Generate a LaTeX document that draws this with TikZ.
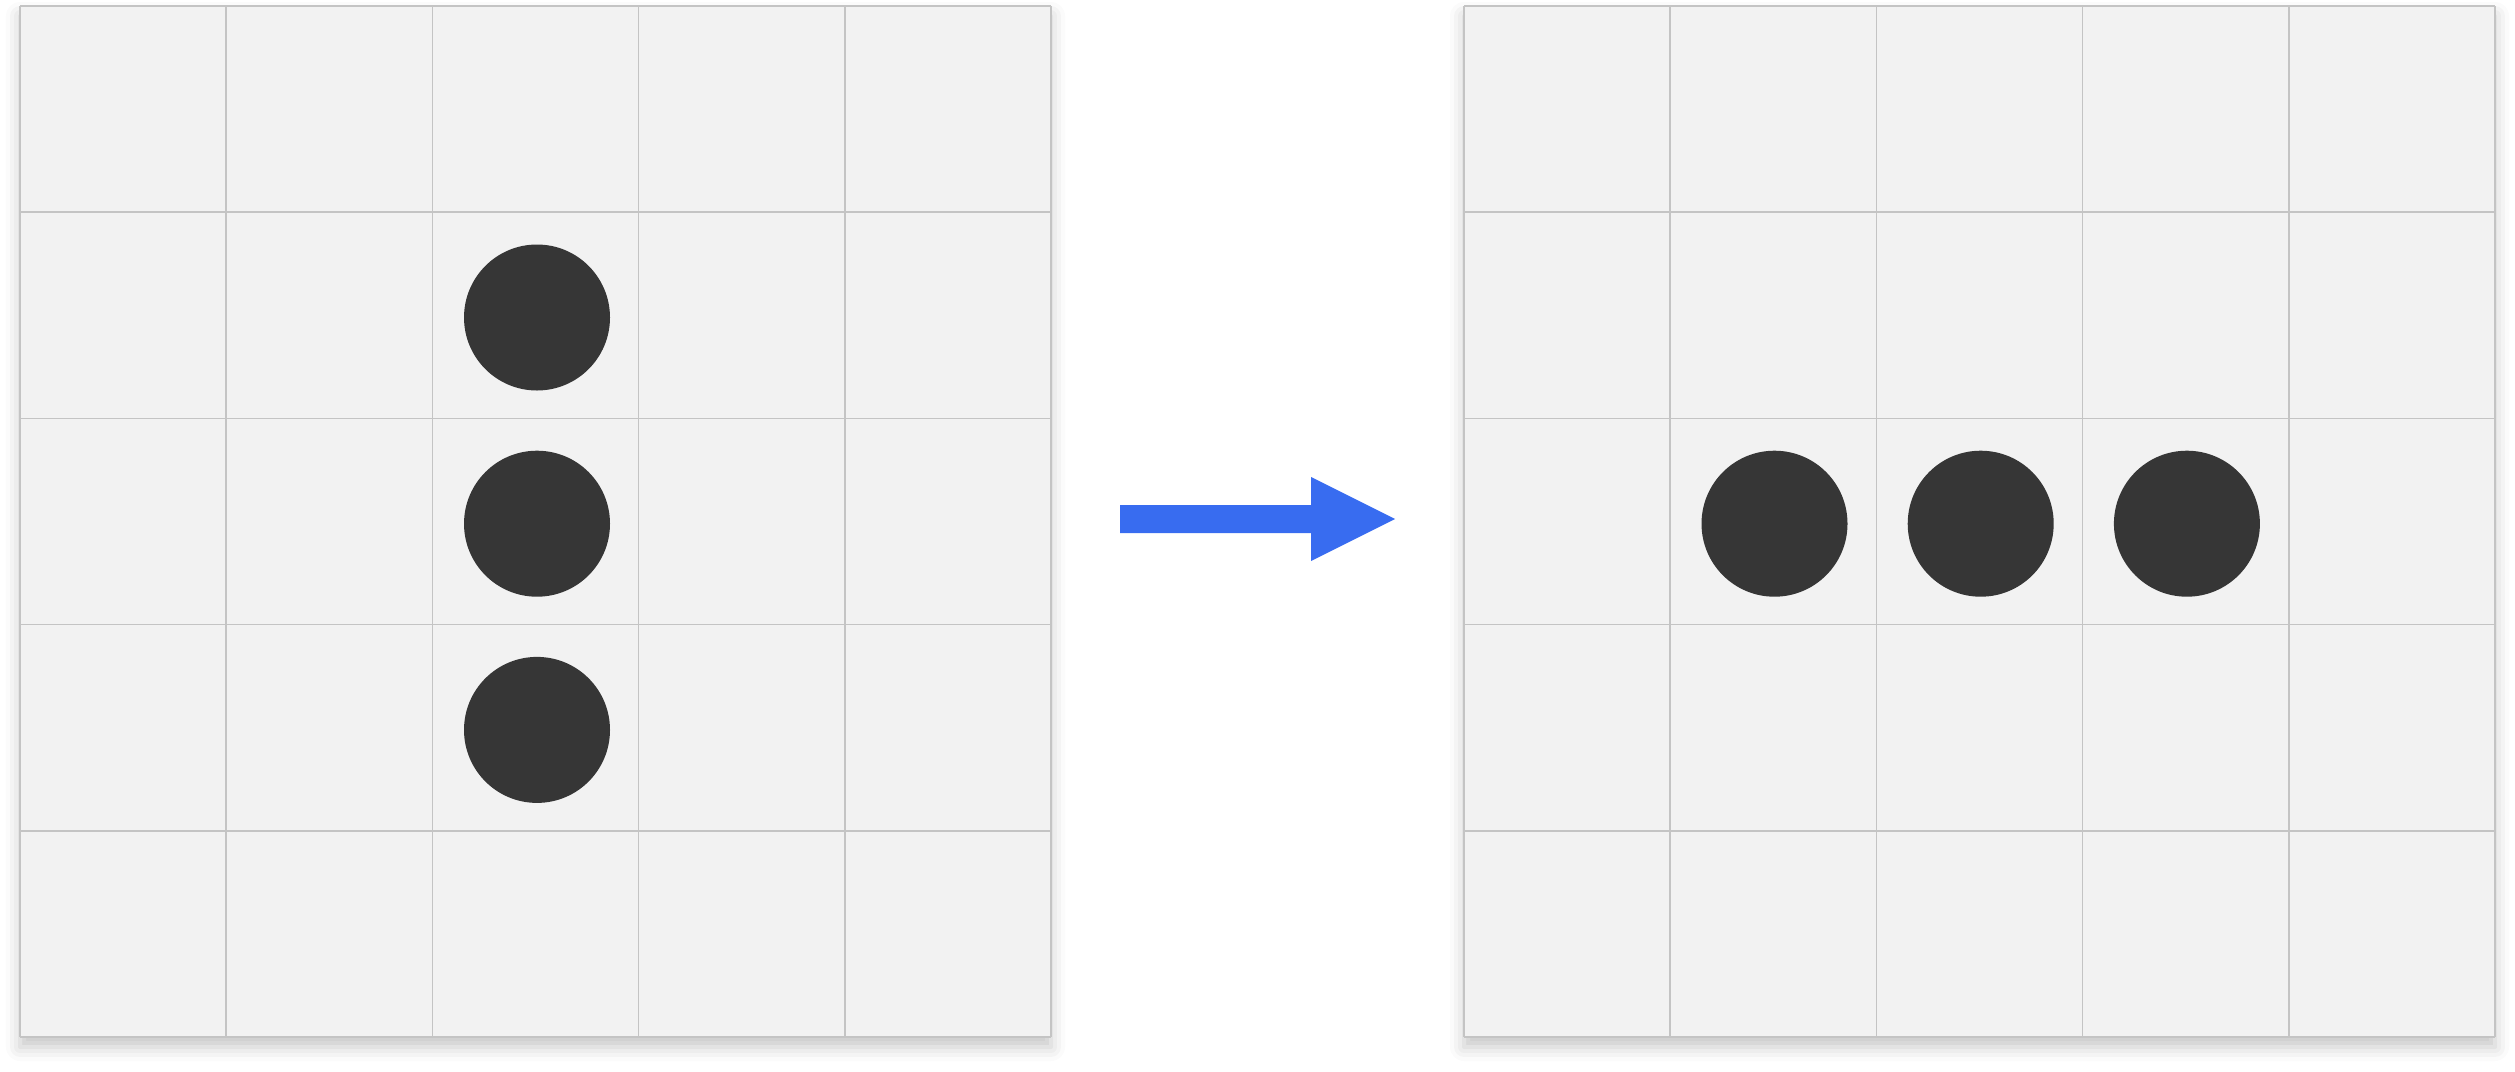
\documentclass[tikz,border=0pt]{standalone}
\usetikzlibrary{shadows.blur}
\definecolor{cellfill}{HTML}{F2F2F2}
\definecolor{gridline}{HTML}{C4C4C4}
\definecolor{stone}{HTML}{363636}
\definecolor{arrowblue}{HTML}{386CF0}
\tikzset{
  board/.style={fill=cellfill, blur shadow={shadow xshift=0pt, shadow yshift=-10pt, shadow blur radius=14pt, shadow opacity=22}},
  gridl/.style={draw=gridline, line width=1.6pt},
  piece/.style={circle, fill=stone, minimum size=146pt, inner sep=0pt, draw=none},
}
\begin{document}
\begin{tikzpicture}[x=1pt,y=-1pt]
\useasboundingbox (0,0) rectangle (2515,1071);
\def\cs{206.2}
% left board
\fill[board] (20,6) rectangle (1051,1037);
\foreach \i in {0,...,5}{
  \draw[gridl] (20+\i*\cs,6) -- (20+\i*\cs,1037);
  \draw[gridl] (20,6+\i*\cs) -- (1051,6+\i*\cs);
}
% right board
\fill[board] (1464,6) rectangle (2495,1037);
\foreach \i in {0,...,5}{
  \draw[gridl] (1464+\i*\cs,6) -- (1464+\i*\cs,1037);
  \draw[gridl] (1464,6+\i*\cs) -- (2495,6+\i*\cs);
}
% left pieces (vertical)
\node[piece] (l1) at (537,317.5) {};
\node[piece] (l2) at (537,523.7) {};
\node[piece] (l3) at (537,729.9) {};
% right pieces (horizontal)
\node[piece] (r1) at (1774.5,523.7) {};
\node[piece] (r2) at (1980.7,523.7) {};
\node[piece] (r3) at (2186.9,523.7) {};
% arrow
\fill[arrowblue] (1120,505) -- (1311,505) -- (1311,477) -- (1395,519) -- (1311,561) -- (1311,533) -- (1120,533) -- cycle;
\end{tikzpicture}
\end{document}
